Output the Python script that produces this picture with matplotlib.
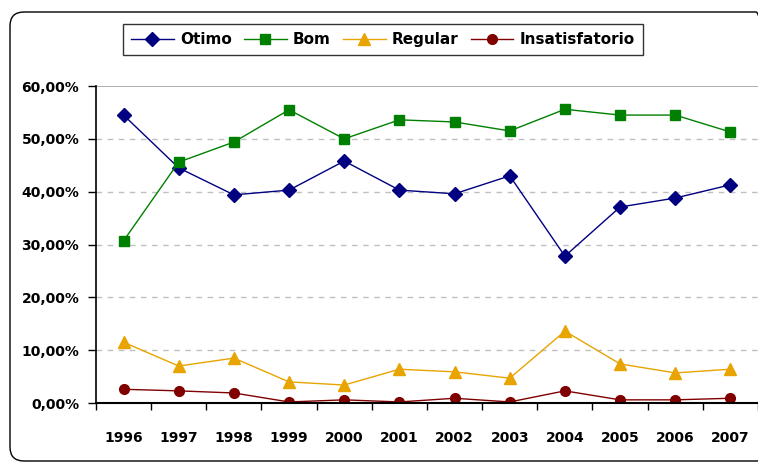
import matplotlib.pyplot as plt
from matplotlib.patches import FancyBboxPatch
from matplotlib.transforms import IdentityTransform
from matplotlib.ticker import FuncFormatter, FixedLocator

years = ["1996", "1997", "1998", "1999", "2000", "2001", "2002", "2003", "2004", "2005", "2006", "2007"]
otimo = [54.5, 44.5, 39.4, 40.3, 45.8, 40.3, 39.6, 43.0, 27.8, 37.1, 38.8, 41.3]
bom = [30.7, 45.6, 49.4, 55.5, 50.0, 53.6, 53.2, 51.5, 55.6, 54.5, 54.5, 51.3]
regular = [11.5, 7.0, 8.5, 4.0, 3.4, 6.4, 5.9, 4.7, 13.6, 7.4, 5.7, 6.4]
insatisf = [2.6, 2.3, 1.9, 0.2, 0.6, 0.2, 0.9, 0.2, 2.3, 0.6, 0.6, 0.9]

fig = plt.figure(figsize=(7.58, 4.65), dpi=100)
ax = fig.add_axes([0.1266, 0.1333, 0.8734, 0.6817])

x = range(len(years))
ax.plot(x, otimo, color="#000080", marker="D", ms=7, lw=1, label="Otimo")
ax.plot(x, bom, color="#008000", marker="s", ms=7, lw=1, label="Bom")
ax.plot(x, regular, color="#E8A400", marker="^", ms=9, lw=1, label="Regular")
ax.plot(x, insatisf, color="#800000", marker="o", ms=7, lw=1, label="Insatisfatorio")

ax.set_xlim(-0.5, len(years) - 0.5)
ax.set_ylim(0, 60)
ax.set_yticks(range(0, 61, 10))
ax.yaxis.set_major_formatter(FuncFormatter(lambda v, p: f"{v:.2f}".replace(".", ",") + "%"))
ax.set_xticks(list(x))
ax.set_xticklabels(years)
ax.xaxis.set_minor_locator(FixedLocator([i - 0.5 for i in range(len(years) + 1)]))
ax.tick_params(axis="x", which="major", length=0, pad=20)
ax.tick_params(axis="x", which="minor", length=5, direction="out", width=1)
ax.tick_params(axis="y", length=6, width=1, pad=6)
for lab in ax.get_xticklabels() + ax.get_yticklabels():
    lab.set_fontweight("bold")
    lab.set_fontsize(10)

for v in range(10, 60, 10):
    ax.axhline(v, color="#c0c0c0", lw=1, ls=(0, (4, 4)), zorder=0)
ax.axhline(60, color="#a0a0a0", lw=1.2, zorder=0)
for s in ["top", "right"]:
    ax.spines[s].set_visible(False)
ax.spines["left"].set_linewidth(1.2)
ax.spines["bottom"].set_linewidth(1.5)

leg = fig.legend(loc="center", bbox_to_anchor=(0.505, 0.915), ncol=4, frameon=True,
                 fancybox=False, edgecolor="black", handlelength=2.8, handletextpad=0.4,
                 columnspacing=0.8, borderpad=0.55, prop={"weight": "bold", "size": 11})
leg.get_frame().set_linewidth(1)

# rounded chart border, drawn in pixel units
border = FancyBboxPatch((10, 4), 760, 449, boxstyle="round,pad=0,rounding_size=14",
                        transform=IdentityTransform(), fill=False, edgecolor="black", lw=1, clip_on=False)
fig.patches.append(border)

fig.savefig("out.png", dpi=100)
